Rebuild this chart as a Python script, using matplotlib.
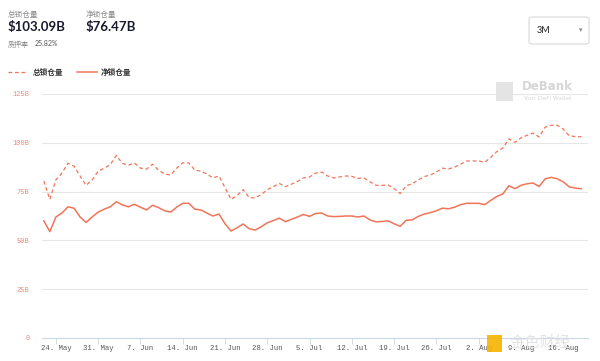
import matplotlib
matplotlib.use('Agg')
import matplotlib.pyplot as plt
from matplotlib.patches import FancyBboxPatch, Rectangle
import pandas as pd

# daily values (billion USD), 22 May .. 19 Aug
total_tvl = [80.4, 71, 81, 84.5, 89.5, 88, 83, 78.2, 81, 85.5,
             87, 88.8, 93.5, 89.5, 88.5, 89.7, 87, 86.5, 89, 86,
             84, 83.5, 87, 89.7, 89.7, 86, 85.5, 84, 82, 83,
             77, 71, 73, 76, 72, 71.7, 73.5, 76, 77.5, 79.2,
             77.5, 78.8, 80.2, 82, 82.5, 84.5, 85, 83, 82, 82.5,
             83, 82.8, 81.8, 82, 80, 78.2, 78.2, 78.4, 76.5, 74,
             78, 79, 81, 82.7, 83.5, 85, 87, 86.6, 87.5, 89,
             90.7, 90.7, 90.7, 90, 92.5, 95.5, 97.3, 102, 100.2, 102.5,
             103.8, 105, 103, 108, 109, 109, 107, 103.6, 103.2, 103.09]
net_tvl = [60, 54.5, 62, 64, 67.2, 66.5, 62, 59.2, 62, 64.5,
           66, 67.2, 69.8, 68.2, 67.2, 68.5, 67, 65.6, 68, 66.8,
           65.2, 64.5, 67, 69, 69, 66, 65.6, 64, 62.5, 63.5,
           58.5, 54.8, 56.5, 58.4, 56, 55.3, 57, 59, 60.2, 61.4,
           59.6, 60.8, 62, 63.3, 62.3, 63.8, 64, 62.5, 62.2, 62.3,
           62.5, 62.5, 62, 62.5, 60.5, 59.5, 59.7, 60, 58.5, 57.2,
           60.3, 60.5, 62.3, 63.5, 64.2, 65.2, 66.5, 66.2, 67, 68.3,
           69, 69, 69, 68.3, 70.5, 72.5, 73.8, 78, 76.5, 78.2,
           79, 79.4, 77.6, 81.5, 82.3, 81.6, 80, 77.4, 76.8, 76.47]
tick_labels = ['24. May', '31. May', '7. Jun', '14. Jun', '21. Jun', '28. Jun',
               '5. Jul', '12. Jul', '19. Jul', '26. Jul', '2. Aug', '9. Aug', '16. Aug']
y_ticks = [0, 25, 50, 75, 100, 125]
y_labels = ['0', '25B', '50B', '75B', '100B', '125B']

dates = pd.date_range('2021-05-22', periods=len(total_tvl), freq='D')
tick_dates = pd.date_range('2021-05-24', periods=len(tick_labels), freq='7D')

color = '#f07558'
mono = 'Liberation Mono'
cjk = ['Lato', 'Noto Sans CJK SC', 'DejaVu Sans']

fig = plt.figure(figsize=(6, 3.61), dpi=100)
ax = fig.add_axes([0.07, 23 / 361, 0.91, 244 / 361])

ax.plot(dates, total_tvl, color=color, lw=0.9, ls=(0, (3, 2.2)), solid_joinstyle='round')
ax.plot(dates, net_tvl, color=color, lw=1.1, solid_joinstyle='round')

x0 = pd.Timestamp('2021-05-24') - pd.Timedelta(hours=2.3 * 24)
x1 = pd.Timestamp('2021-05-24') + pd.Timedelta(hours=88.1 * 24)
ax.set_xlim(x0, x1)
ax.set_ylim(0, 125)

ax.set_xticks(tick_dates)
ax.set_xticklabels(tick_labels, fontfamily=mono, fontsize=5.2, color='#555555')
ax.set_yticks(y_ticks)
ax.set_yticklabels(y_labels, fontfamily=mono, fontsize=5, color='#f08a78')
ax.tick_params(axis='x', length=4, width=0.6, color='#ccd6eb', pad=1)
ax.tick_params(axis='y', length=0, pad=9)

for v in y_ticks[1:]:
    ax.axhline(v, color='#e6e6e6', lw=0.8, zorder=0)
for s in ['top', 'right', 'left']:
    ax.spines[s].set_visible(False)
ax.spines['bottom'].set_color('#ccd6eb')
ax.spines['bottom'].set_linewidth(0.8)

# header texts
def fy(y):
    return 1 - y / 361

fig.text(8 / 600, fy(14), '总锁仓量', fontsize=5.5, color='#8a8a8a', family=cjk, va='center')
fig.text(8 / 600, fy(27), '$103.09B', fontsize=9.5, color='#1a1a2e', family=cjk, weight='bold', va='center')
fig.text(86 / 600, fy(14), '净锁仓量', fontsize=5.5, color='#8a8a8a', family=cjk, va='center')
fig.text(86 / 600, fy(27), '$76.47B', fontsize=9.5, color='#1a1a2e', family=cjk, weight='bold', va='center')
fig.text(8 / 600, fy(44), '质押率', fontsize=5, color='#8a8a8a', family=cjk, va='center')
fig.text(35 / 600, fy(44), '25.82%', fontsize=5, color='#555555', family=cjk, va='center')

# legend
fig.add_artist(plt.Line2D([8 / 600, 27 / 600], [fy(72), fy(72)], color=color, lw=0.9, ls=(0, (3, 2.2))))
fig.text(33 / 600, fy(72), '总锁仓量', fontsize=5.5, color='#333333', family=cjk, va='center', weight='bold')
fig.add_artist(plt.Line2D([77 / 600, 97 / 600], [fy(72), fy(72)], color=color, lw=1.1))
fig.text(101 / 600, fy(72), '净锁仓量', fontsize=5.5, color='#333333', family=cjk, va='center', weight='bold')

# 3M selector
fig.add_artist(FancyBboxPatch((529 / 600, fy(44)), 60 / 600, 27 / 361,
                              boxstyle='round,pad=0,rounding_size=0.006',
                              transform=fig.transFigure, fc='white', ec='#d9d9d9', lw=0.8))
fig.text(537 / 600, fy(30.5), '3M', fontsize=6.5, color='#222222', family=cjk, va='center')
fig.text(581 / 600, fy(30.5), '▾', fontsize=5, color='#888888', va='center', ha='center')

# DeBank watermark
fig.add_artist(Rectangle((496 / 600, fy(101)), 17 / 600, 19 / 361, transform=fig.transFigure,
                         fc='#e4e4e4', ec='none'))
fig.text(522 / 600, fy(87), 'DeBank', fontsize=8.5, color='#d6d6d6', weight='bold', va='center')
fig.text(523 / 600, fy(98), 'Your DeFi Wallet', fontsize=4.3, color='#d6d6d6', va='center')

# jinse watermark
fig.add_artist(Rectangle((487 / 600, fy(352)), 15 / 600, 17 / 361, transform=fig.transFigure,
                         fc='#f5b400', ec='none', alpha=0.9))
fig.text(510 / 600, fy(343), '金色财经', fontsize=11, color='#e0e0e0', family=cjk, va='center', alpha=0.9)

fig.savefig('out.png', dpi=100)
